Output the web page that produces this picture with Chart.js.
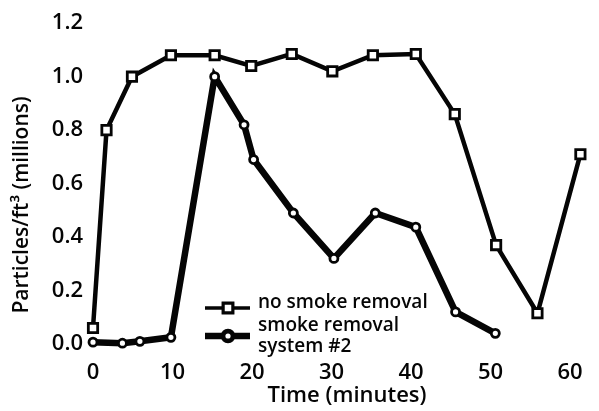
<!DOCTYPE html>
<html>
<head>
<meta charset="utf-8">
<script src="https://cdn.jsdelivr.net/npm/chart.js@4/dist/chart.umd.min.js"></script>
<style>
  html, body { margin: 0; padding: 0; background: #fff; }
  #wrap { position: relative; width: 599px; height: 411px; }
</style>
</head>
<body>
<div id="wrap"><canvas id="smokeChart" width="599" height="411"></canvas></div>
<script>
// values (time in minutes, particles in millions per ft³)
const timeNoRemoval = [0, 1.7, 4.9, 9.8, 15.3, 19.9, 25.0, 30.1, 35.2, 40.6, 45.5, 50.7, 55.9, 61.3];
const noRemoval = [0.06, 0.80, 1.00, 1.08, 1.08, 1.04, 1.085, 1.02, 1.08, 1.085, 0.86, 0.37, 0.115, 0.71];

const timeSystem2 = [0, 3.7, 5.9, 9.8, 15.3, 19.0, 20.2, 25.2, 30.3, 35.5, 40.6, 45.6, 50.6];
const system2 = [0.007, 0.003, 0.01, 0.025, 1.0, 0.82, 0.69, 0.49, 0.32, 0.49, 0.437, 0.12, 0.04];

const xTicks = [0, 10, 20, 30, 40, 50, 60];
const yTicks = [0, 0.2, 0.4, 0.6, 0.8, 1.0, 1.2];

const legendLabels = [["no smoke removal"], ["smoke removal", "system #2"]];
const xTitle = "Time (minutes)";
const yTitle = "Particles/ft³ (millions)";

const FONT = "'Open Sans', sans-serif";
const INK = "#050505";

function toPoints(xs, ys) {
    return xs.map((x, i) => ({ x: x, y: ys[i] }));
}

// axis titles and the legend sit inside/around the plot, so draw them by hand
const extrasPlugin = {
    id: "extras",
    afterDatasetsDraw(chart) {
        const ctx = chart.ctx;
        const ds = chart.data.datasets;
        ctx.save();
        ctx.fillStyle = INK;
        ctx.textBaseline = "middle";

        // y title
        ctx.save();
        ctx.translate(22, 205);
        ctx.rotate(-Math.PI / 2);
        ctx.textAlign = "center";
        ctx.font = "600 21px " + FONT;
        ctx.fillText(yTitle, 0, 0);
        ctx.restore();

        // x title
        ctx.textAlign = "center";
        ctx.font = "600 22px " + FONT;
        ctx.fillText(xTitle, 347, 396);

        // legend
        const rows = [
            { y: 308, textY: [303] },
            { y: 336, textY: [326, 347] }
        ];
        rows.forEach((row, i) => {
            const d = ds[i];
            ctx.strokeStyle = INK;
            ctx.lineWidth = i === 0 ? 3.5 : d.borderWidth;
            ctx.beginPath();
            ctx.moveTo(205, row.y);
            ctx.lineTo(250, row.y);
            ctx.stroke();
            Chart.helpers.drawPoint(ctx, {
                pointStyle: d.pointStyle,
                radius: d.pointRadius,
                borderWidth: d.pointBorderWidth,
                rotation: 0
            }, 228, row.y);
            ctx.fillStyle = "#fff";
            ctx.strokeStyle = INK;
            ctx.lineWidth = d.pointBorderWidth;
            ctx.fill();
            ctx.stroke();
            ctx.fillStyle = INK;
            ctx.textAlign = "left";
            ctx.font = "600 19px " + FONT;
            legendLabels[i].forEach((t, j) => ctx.fillText(t, 258, row.textY[j]));
        });
        ctx.restore();
    }
};

const ctx = document.getElementById("smokeChart").getContext("2d");

new Chart(ctx, {
    type: "line",
    data: {
        datasets: [
            {
                label: legendLabels[0].join(" "),
                data: toPoints(timeNoRemoval, noRemoval),
                borderColor: INK,
                borderWidth: 4.5,
                pointStyle: "rect",
                pointRadius: 6.6,
                pointBorderWidth: 2.8,
                pointBackgroundColor: "#fff",
                pointBorderColor: INK,
                tension: 0,
                clip: false
            },
            {
                label: legendLabels[1].join(" "),
                data: toPoints(timeSystem2, system2),
                borderColor: INK,
                borderWidth: 6.5,
                pointStyle: "circle",
                pointRadius: 4,
                pointBorderWidth: 2.8,
                pointBackgroundColor: "#fff",
                pointBorderColor: INK,
                tension: 0,
                clip: false
            }
        ]
    },
    options: {
        responsive: false,
        animation: false,
        layout: { padding: { top: 20, right: 5, left: 0, bottom: 0 } },
        plugins: {
            legend: { display: false },
            tooltip: { enabled: false }
        },
        scales: {
            x: {
                type: "linear",
                min: 0,
                max: 62.4,
                grid: { display: false, drawTicks: false },
                border: { display: false },
                afterBuildTicks: (axis) => { axis.ticks = xTicks.map(v => ({ value: v })); },
                afterFit: (axis) => { axis.height = 67; },
                ticks: {
                    padding: 16,
                    color: INK,
                    font: { family: FONT, size: 22, weight: "600" },
                    callback: (v) => String(v)
                }
            },
            y: {
                min: 0,
                max: 1.2,
                grid: { display: false, drawTicks: false },
                border: { display: false },
                afterBuildTicks: (axis) => { axis.ticks = yTicks.map(v => ({ value: v })); },
                afterFit: (axis) => { axis.width = 93; },
                ticks: {
                    padding: 10,
                    color: INK,
                    font: { family: FONT, size: 22, weight: "600" },
                    callback: (v) => v.toFixed(1)
                }
            }
        }
    },
    plugins: [extrasPlugin]
});
</script>
</body>
</html>
